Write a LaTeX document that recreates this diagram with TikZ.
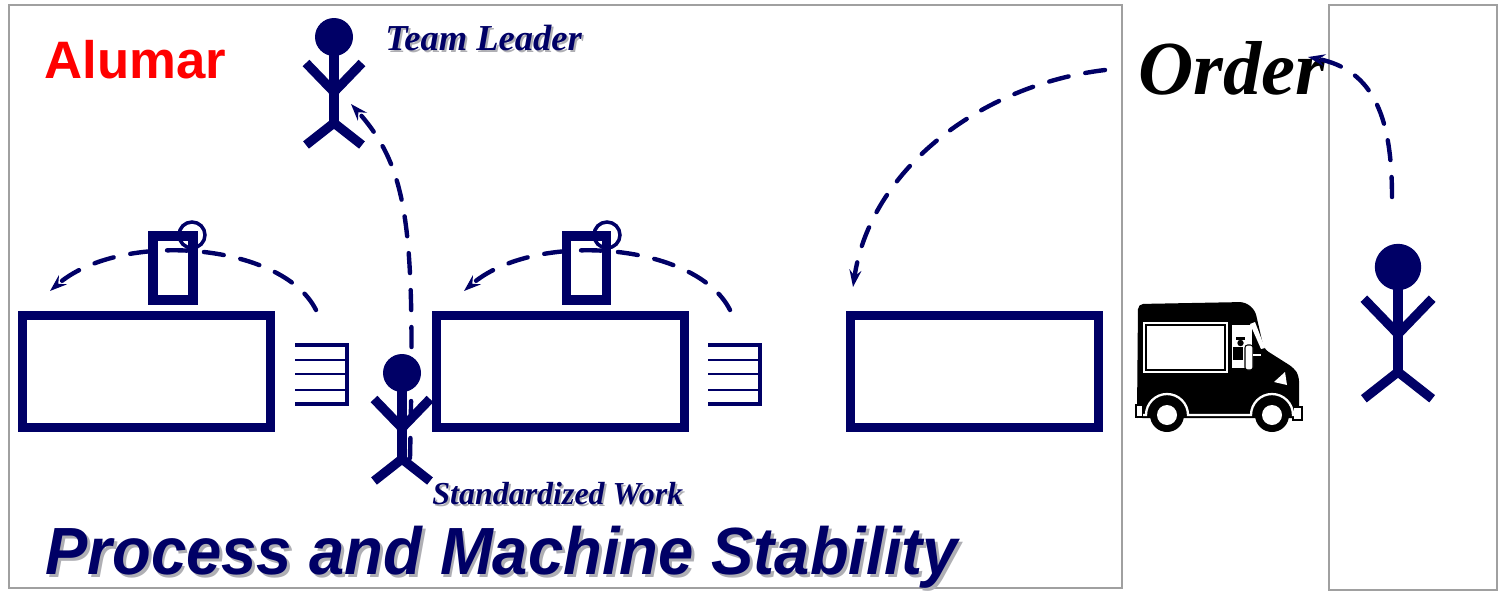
\documentclass[tikz,border=0pt]{standalone}
\usepackage{fontspec}
\setmainfont{Liberation Serif}
\setsansfont{Liberation Sans}
\usetikzlibrary{arrows.meta,positioning}
\definecolor{navy}{RGB}{0,0,102}
\definecolor{framegray}{RGB}{160,160,160}
\definecolor{shade}{RGB}{175,175,180}
% text with a soft grey drop shadow
\newcommand{\dropshadow}[2]{\makebox[0pt][l]{\hspace*{#1}\raisebox{-#1}{\color{shade}#2}}#2}
\tikzset{
  frameline/.style={draw=framegray, line width=1.2pt},
  machine/.style={draw=navy, line width=5.1pt, fill=white, minimum width=4.96cm,
    minimum height=2.24cm, inner sep=0pt},
  post/.style={draw=navy, line width=5.6pt, fill=white, minimum width=0.8cm,
    minimum height=1.28cm, inner sep=0pt},
  ring/.style={draw=navy, line width=2pt},
  limb/.style={navy, line width=5.3pt},
  flow/.style={navy, line width=2.5pt, line cap=round, dash pattern=on 0.4cm off 0.34cm,
    -{Stealth[length=0.34cm,width=0.24cm,inset=0.12cm]}},
  label/.style={inner sep=0pt, anchor=base west},
  stickman/.pic={
    \fill[navy] (0,0) circle (19);
    \draw[limb] (0,15) -- (0,86);
    \draw[limb] (-28,26) -- (0,55) -- (28,26);
    \draw[limb] (-28,108) -- (0,86) -- (28,108);
  },
  stock/.pic={
    \draw[navy, line width=1.8pt] (0,0) -- (52,0) -- (52,59) -- (0,59);
    \foreach \ly in {15,29,45} \draw[navy, line width=1.6pt] (0,\ly) -- (52,\ly);
  }
}

\begin{document}
\begin{tikzpicture}[x=0.02cm, y=-0.02cm]
  \useasboundingbox (0,0) rectangle (1501,592);

  % plant and customer
  \draw[frameline] (9,5) rectangle (1122,588);
  \draw[frameline] (1329,5) rectangle (1497,590);

  % process line
  \node[machine] (m1) at (146.5,371.5) {};
  \node[machine, right=3.14cm of m1] (m2) {};
  \node[machine, right=3.14cm of m2] (m3) {};

  % kanban posts
  \node[post] (k1) at (173,268) {};
  \node[post] (k2) at (586.5,268) {};
  \draw[ring] (192,235) circle (13);
  \draw[ring] (607,235) circle (13);

  \pic at (295,345) {stock};
  \pic at (708,345) {stock};

  % pull signals
  \coordinate (p1s) at (316,310);
  \coordinate (p1e) at (50,291);
  \coordinate (p2s) at (730,310);
  \coordinate (p2e) at (464,291);
  \draw[flow] (p1s) .. controls (282,242) and (120,230) .. (p1e);
  \draw[flow] (p2s) .. controls (696,242) and (534,230) .. (p2e);

  % operator calls the team leader
  \coordinate (call) at (410,458);
  \coordinate (lead) at (351,104);
  \draw[flow] (call) .. controls (415,230) and (410,170) .. (lead);

  \pic (tl) at (334,37) {stickman};
  \pic (op) at (402,373) {stickman};
  \pic[scale=1.22] (cu) at (1398,267) {stickman};

  % texts
  \node[label, font=\sffamily\bfseries, text=red] (plant) at (44,78)
    {\fontsize{30}{30}\selectfont Alumar};
  \node[label, font=\bfseries\itshape, text=navy] (tltext) at (385,50)
    {\fontsize{20.8}{21}\selectfont\dropshadow{0.04cm}{Team Leader}};
  \node[label, font=\bfseries\itshape, text=navy] (swtext) at (432,504)
    {\fontsize{18.2}{19}\selectfont\dropshadow{0.04cm}{Standardized Work}};
  \node[label, font=\sffamily\bfseries\itshape, text=navy] (title) at (45,574)
    {\fontsize{38}{39}\selectfont\scalebox{0.95}[1]{\dropshadow{0.06cm}{Process and Machine Stability}}};
  \node[label, font=\bfseries\itshape] (order) at (1138,94)
    {\fontsize{43.5}{44}\selectfont Order};

  % order flow
  \coordinate (cs) at (1392,197);
  \coordinate (ce) at (1308,57);
  \coordinate (os) at (1105,70);
  \coordinate (oe) at (853,287);
  \draw[flow] (cs) .. controls (1392,120) and (1375,70) .. (ce);
  \draw[flow] (os) .. controls (980,85) and (870,170) .. (oe);

  % delivery van
  \begin{scope}[shift={(1137,432)}, yscale=-1]
    \fill[black, rounded corners=3pt] (0,19) -- (1,128) -- (108,130) -- (118,122)
      -- (127,83) -- (157,64) -- (162,56) -- (162,14) -- (0,14) -- cycle;
    \fill[white] (6,59) rectangle (91,110);
    \draw[black, line width=0.9pt] (9,62) rectangle (88,107);
    \fill[white] (95,64) rectangle (115,107);
    \fill[white] (113,108) -- (118,110) -- (128,84) -- (124,83) -- cycle;
    % driver
    \fill[black] (96,72) rectangle (106,85);
    \fill[black] (103.5,89) circle (3.2);
    \fill[black] (99,92) rectangle (108,95);
    \filldraw[fill=white, draw=black, line width=0.6pt, rounded corners=1.5pt] (108,62) rectangle (116,87);
    \draw[white, line width=1.4pt] (116,77) -- (124,77);
    \fill[white] (137,50) -- (148,60) -- (150,47) -- cycle;
    % bumpers
    \filldraw[fill=white, draw=black, line width=0.6pt] (-1,15) rectangle (6,27);
    \filldraw[fill=white, draw=black, line width=0.6pt] (156,12) rectangle (165,25);
    % wheels
    \draw[white, line width=1.3pt] (6,17) -- (9,17) arc[start angle=180, end angle=0, radius=21]
      -- (114,17) arc[start angle=180, end angle=0, radius=21] -- (158,17);
    \foreach \wx in {30,135} {
      \fill[black] (\wx,17) circle (17);
      \fill[white] (\wx,17) circle (10);
    }
  \end{scope}
\end{tikzpicture}
\end{document}
